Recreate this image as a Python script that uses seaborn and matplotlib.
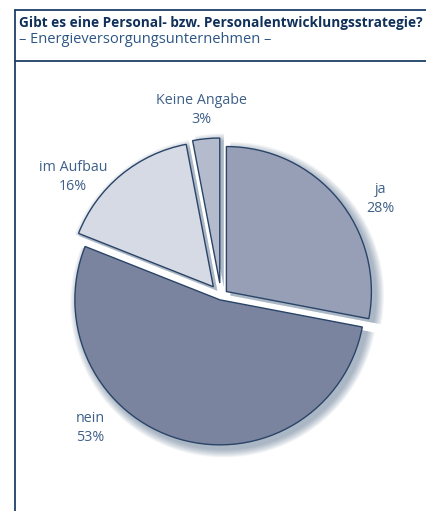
import numpy as np
import matplotlib.pyplot as plt
import seaborn as sns

categories = ["ja", "nein", "im Aufbau", "Keine Angabe"]
values = [28, 53, 16, 3]
colors = ["#969fb6", "#7a849f", "#d6dae4", "#b4bbcc"]
explode = [7, 4, 12, 13]  # offsets in pixels

title = "Gibt es eine Personal- bzw. Personalentwicklungsstrategie?"
subtitle = "\u2013 Energieversorgungsunternehmen \u2013"

sns.set_theme(style="white")
plt.rcParams["font.family"] = ["Open Sans", "DejaVu Sans"]

W, H = 426, 511
fig = plt.figure(figsize=(W / 100, H / 100), dpi=100)
ax = fig.add_axes([0, 0, 1, 1])

cx, cy, r = 221, H - 296, 145
navy = "#1d3f66"

# soft shadow behind the pie
for i in range(12):
    ax.pie(values, explode=explode, radius=r + 1 + i * 0.7, center=(cx + 4, cy - 4),
           startangle=90, counterclock=False, colors=[navy] * 4,
           wedgeprops=dict(alpha=0.035, linewidth=0))

wedges, _ = ax.pie(values, explode=explode, radius=r, center=(cx, cy),
                   startangle=90, counterclock=False, colors=colors,
                   wedgeprops=dict(edgecolor="#2a4468", linewidth=1.0))
ax.set_xlim(0, W)
ax.set_ylim(0, H)
ax.set_aspect("equal")
ax.axis("off")

label_pos = [(380, 199), (90, 428), (73, 177), (201, 110)]
for cat, v, (x, y) in zip(categories, values, label_pos):
    ax.text(x, H - y, f"{cat}\n{v}%", ha="center", va="center", fontsize=10.3,
            color="#3f6088", linespacing=1.45)

# frame
ax.plot([15, 15], [0, H - 10], color=navy, lw=1.3)
ax.plot([15, W], [H - 10, H - 10], color=navy, lw=1.3)
ax.plot([15, W], [H - 61, H - 61], color=navy, lw=1.3)
ax.text(19, H - 23, title, fontsize=9.8, fontweight="bold", color="#10305a",
        ha="left", va="center")
ax.text(19, H - 39, subtitle, fontsize=10.5, color="#2d5684", ha="left", va="center")

fig.savefig("out.png", dpi=100)
